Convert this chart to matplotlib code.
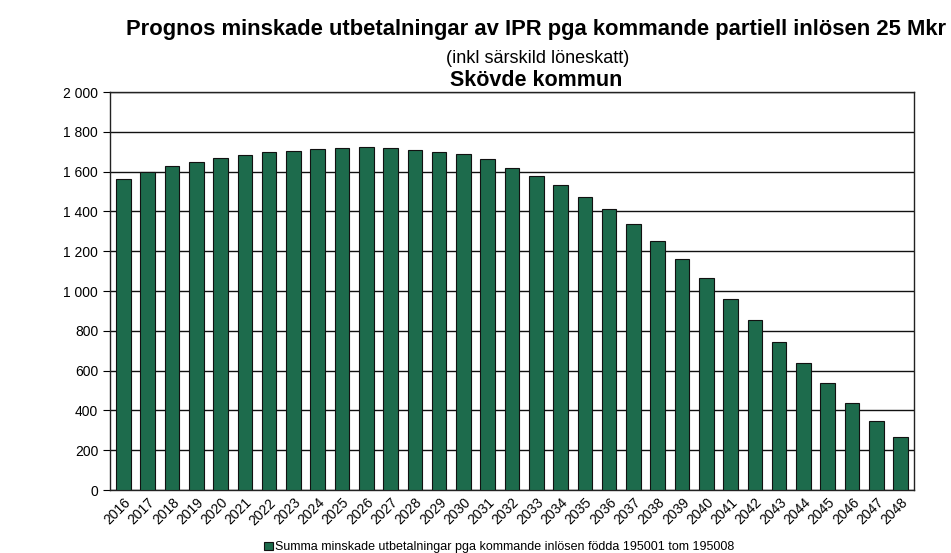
import numpy as np
import matplotlib.pyplot as plt

plt.rcParams['font.family'] = ['Liberation Sans', 'DejaVu Sans']

years = [str(y) for y in range(2016, 2049)]
values = [1565, 1600, 1628, 1648, 1668, 1683, 1698, 1706, 1716, 1721, 1723,
          1718, 1711, 1701, 1688, 1663, 1617, 1579, 1533, 1474, 1412, 1335,
          1251, 1161, 1064, 960, 854, 745, 638, 536, 436, 345, 265]
yticks = list(range(0, 2001, 200))
ytick_labels = ['{:,}'.format(v).replace(',', ' ') for v in yticks]

fig = plt.figure(figsize=(9.51, 5.53), dpi=100)
ax = fig.add_axes([0.1157, 0.1139, 0.8454, 0.7197])

x = np.arange(len(years))
ax.bar(x, values, width=0.6, color='#1d6b4c', edgecolor='#111111', linewidth=0.8,
       zorder=3, label='Summa minskade utbetalningar pga kommande inlösen födda 195001 tom 195008')

ax.set_ylim(0, 2000)
ax.set_xlim(-0.55, len(years) - 0.45)
ax.set_yticks(yticks)
ax.set_yticklabels(ytick_labels, fontsize=10)
ax.set_xticks(x)
ax.set_xticklabels(years, rotation=45, ha='right', rotation_mode='anchor', fontsize=10)
ax.tick_params(axis='x', length=0, pad=4)
ax.tick_params(axis='y', length=5, width=0.8, direction='out')
ax.yaxis.grid(True, color='#111111', linewidth=1.0, zorder=0)
ax.set_axisbelow(True)
for s in ax.spines.values():
    s.set_color('#222222')
    s.set_linewidth(1.0)

fig.text(0.5636, 0.946, 'Prognos minskade utbetalningar av IPR pga kommande partiell inlösen 25 Mkr',
         ha='center', va='center', fontsize=15.8, fontweight='bold')
fig.text(0.5655, 0.895, '(inkl särskild löneskatt)', ha='center', va='center', fontsize=13)
fig.text(0.5636, 0.855, 'Skövde kommun', ha='center', va='center', fontsize=15.5, fontweight='bold')

fig.legend(loc='lower center', bbox_to_anchor=(0.525, -0.021), frameon=False, fontsize=9,
           handlelength=0.7, handleheight=0.7, handletextpad=0.2)

fig.savefig('out.png', dpi=100)
